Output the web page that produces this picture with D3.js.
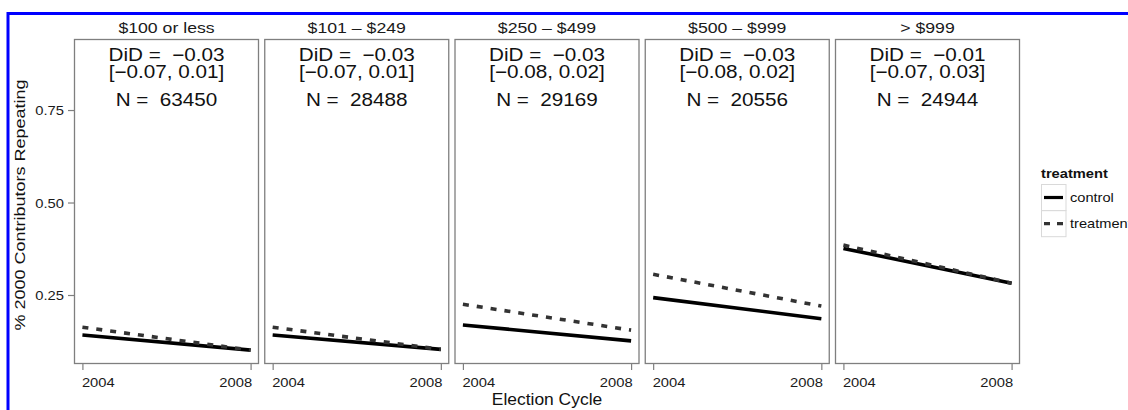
<!DOCTYPE html>
<html><head><meta charset="utf-8">
<script src="https://cdn.jsdelivr.net/npm/d3@7"></script>
<style>body{margin:0;background:#fff}svg{display:block;font-family:"Liberation Sans",Arial,sans-serif}text{white-space:pre}</style>
</head><body><svg id="c" width="1128" height="410"></svg>
<script>
const panels = ["$100 or less", "$101 – $249", "$250 – $499", "$500 – $999", "> $999"];
const years = [2004, 2008];
const controlVals = [[0.142, 0.101], [0.142, 0.103], [0.169, 0.126], [0.243, 0.186], [0.376, 0.282]];
const treatmentVals = [[0.163, 0.101], [0.163, 0.103], [0.225, 0.155], [0.306, 0.220], [0.385, 0.282]];
const didText = ["DiD =  −0.03", "DiD =  −0.03", "DiD =  −0.03", "DiD =  −0.03", "DiD =  −0.01"];
const ciText = ["[−0.07, 0.01]", "[−0.07, 0.01]", "[−0.08, 0.02]", "[−0.08, 0.02]", "[−0.07, 0.03]"];
const nText = ["N =  63450", "N =  28488", "N =  29169", "N =  20556", "N =  24944"];
const yTicks = [0.25, 0.50, 0.75];
const seriesNames = ["control", "treatment"];

const svg = d3.select("#c");
// blue frame
svg.append("path").attr("d", "M8,410 L8,13.5 L1128,13.5").attr("fill", "none").attr("stroke", "#0000ff").attr("stroke-width", 3);

// text with horizontal stretch (reference font is wider than Liberation Sans)
function txt(parent, x, y, s, size, sx, anchor, extra) {
  const t = parent.append("text")
    .attr("transform", `translate(${x},${y})${extra || ""} scale(${sx},1)`)
    .attr("text-anchor", anchor || "middle")
    .attr("font-size", size).attr("fill", "#111").text(s);
  return t;
}

const pTop = 39, pBottom = 364, pw = 185, step = 190.25, left0 = 74;
const y = d3.scaleLinear().domain([0.0635, 0.942]).range([pBottom, pTop]);

// y axis
const yAxis = svg.append("g").attr("transform", `translate(${left0},0)`)
  .call(d3.axisLeft(y).tickValues(yTicks).tickFormat(d3.format(".2f")).tickSize(6).tickPadding(3));
yAxis.select(".domain").remove();
yAxis.selectAll("line").attr("stroke", "#7f7f7f").attr("stroke-width", 1.2);
yAxis.selectAll("text").attr("font-size", 12.5).attr("fill", "#1a1a1a").attr("font-family", "Liberation Sans, Arial, sans-serif")
  .attr("x", null).attr("dy", null)
  .attr("transform", "translate(-10,4.5) scale(1.18,1)");

txt(svg, 25, 205, "% 2000 Contributors Repeating", 15, 1.2, "middle", " rotate(-90)");
txt(svg, 547, 405, "Election Cycle", 16, 1.09, "middle");

const line = d3.line().x(d => d[0]).y(d => d[1]);

panels.forEach((p, i) => {
  const x0 = left0 + i * step;
  const x = d3.scaleLinear().domain([2003.8, 2008.2]).range([x0, x0 + pw]);
  const g = svg.append("g");
  txt(g, x0 + pw / 2, 33, p, 14.5, 1.22, "middle").attr("fill", "#1a1a1a");
  // lines
  g.append("path").datum(years.map((yr, k) => [x(yr), y(controlVals[i][k])]))
    .attr("d", line).attr("fill", "none").attr("stroke", "#000").attr("stroke-width", 3.6);
  g.append("path").datum(years.map((yr, k) => [x(yr), y(treatmentVals[i][k])]))
    .attr("d", line).attr("fill", "none").attr("stroke", "#333").attr("stroke-width", 3.6)
    .attr("stroke-dasharray", "6,8");
  // panel border
  g.append("rect").attr("x", x0 + 0.5).attr("y", pTop + 0.5).attr("width", pw - 1).attr("height", pBottom - pTop - 1)
    .attr("fill", "none").attr("stroke", "#7f7f7f").attr("stroke-width", 1.3);
  // annotations
  const cx = x0 + pw / 2;
  txt(g, cx, 61, didText[i], 18, 1.15, "middle");
  txt(g, cx, 78, ciText[i], 18, 1.15, "middle");
  txt(g, cx, 106, nText[i], 18, 1.15, "middle");
  // x axis
  const xa = g.append("g").attr("transform", `translate(0,${pBottom})`)
    .call(d3.axisBottom(x).tickValues(years).tickFormat(d3.format("d")).tickSize(6).tickPadding(5));
  xa.select(".domain").remove();
  xa.selectAll("line").attr("stroke", "#7f7f7f").attr("stroke-width", 1.2);
  xa.selectAll("text").attr("font-size", 12.5).attr("fill", "#1a1a1a").attr("font-family", "Liberation Sans, Arial, sans-serif")
    .attr("y", null).attr("dy", null)
    .attr("text-anchor", (d, k) => k === 0 ? "start" : "end")
    .attr("transform", (d, k) => `translate(${k === 0 ? -1 : 1},22.5) scale(1.18,1)`);
});

// legend
const lg = svg.append("g").attr("transform", "translate(1041,0)");
txt(lg, 0, 178, "treatment", 13, 1.13, "start").attr("font-weight", "bold");
seriesNames.forEach((s, k) => {
  const ky = 184.5 + k * 26.2;
  lg.append("rect").attr("x", 0.5).attr("y", ky).attr("width", 24.5).attr("height", 26).attr("fill", "#fff").attr("stroke", "#d9d9d9");
  lg.append("line").attr("x1", 3).attr("x2", 22).attr("y1", ky + 13).attr("y2", ky + 13)
    .attr("stroke", k === 0 ? "#000" : "#333").attr("stroke-width", 3.2).attr("stroke-dasharray", k === 0 ? null : "6,7");
  txt(lg, 29, ky + 17.5, s, 12.5, 1.17, "start");
});
</script></body></html>
